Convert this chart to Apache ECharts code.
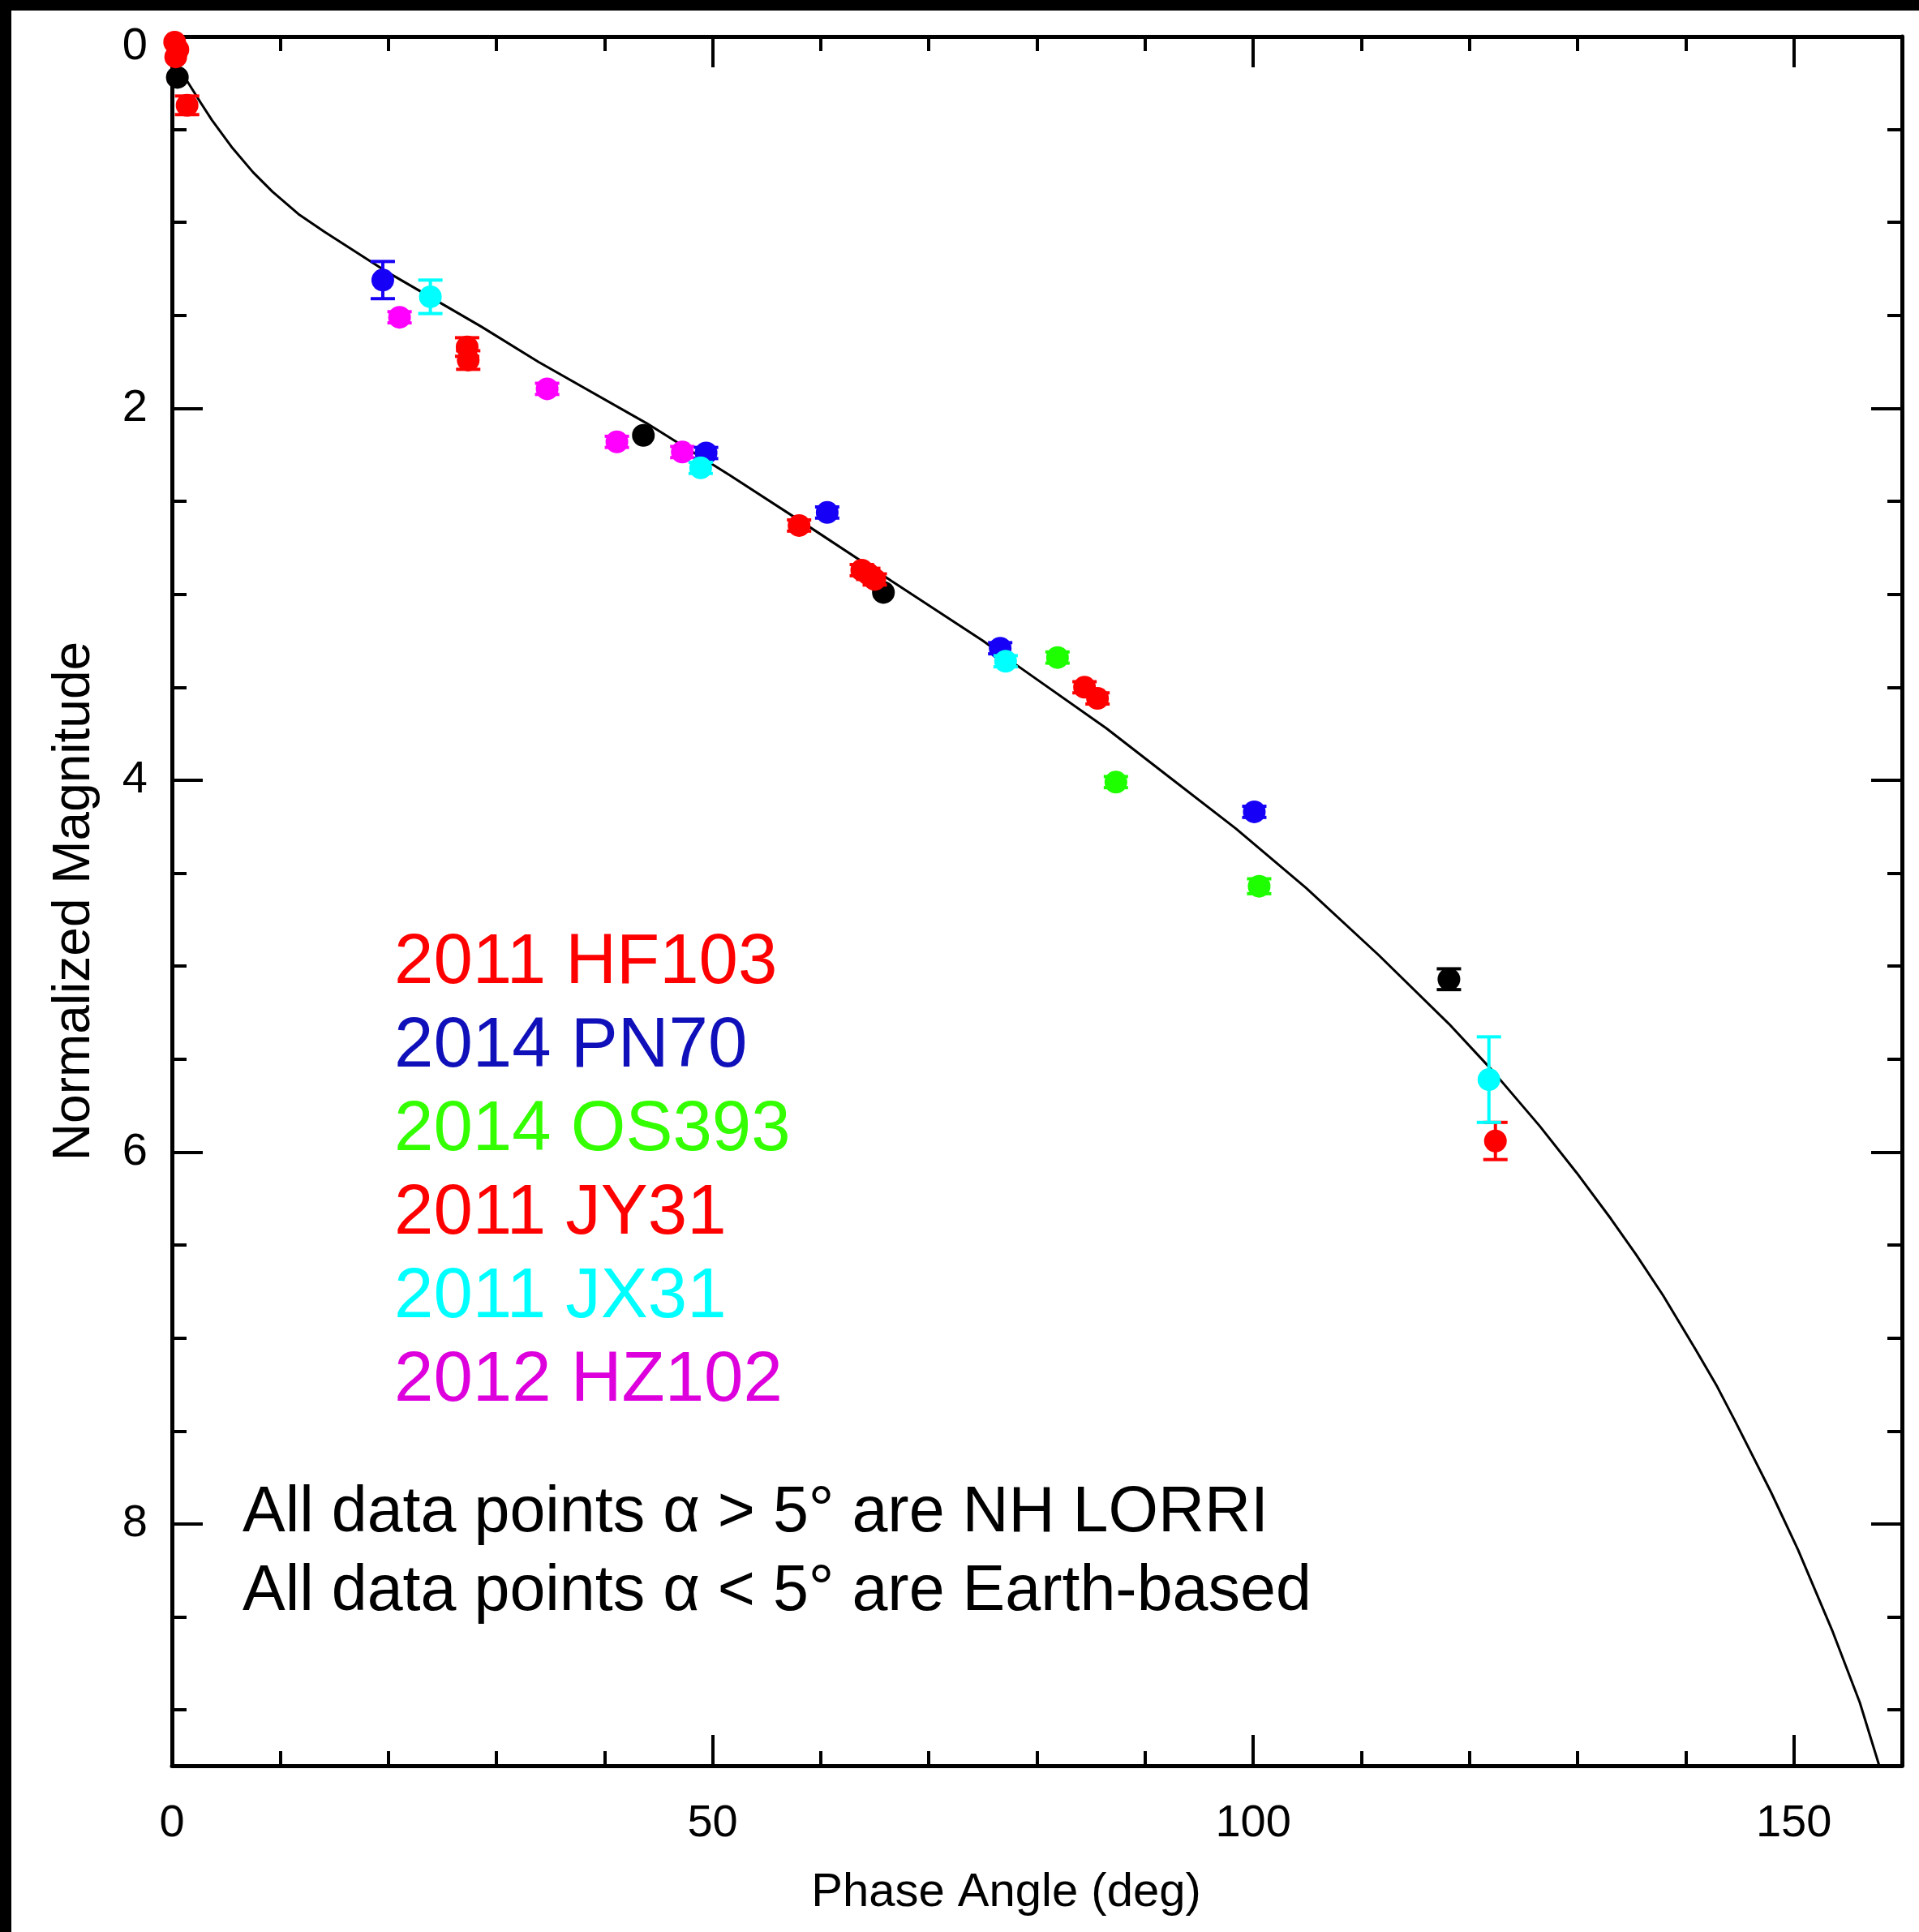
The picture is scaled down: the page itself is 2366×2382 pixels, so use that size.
<!DOCTYPE html>
<html>
<head>
<meta charset="utf-8">
<script src="https://cdn.jsdelivr.net/npm/echarts@6/dist/echarts.min.js"></script>
<style>
html,body{margin:0;padding:0;background:#fff;}
#chart{width:2366px;height:2382px;}
</style>
</head>
<body>
<div id="chart"></div>
<script>
// ---- axis ranges / ticks ----
const xRange = [0, 160];
const yRange = [0, 9.3];
const xMajorStep = 50, xMinorStep = 10;
const yMajorStep = 2, yMinorStep = 0.5;

// ---- series names & colours ----
const seriesNames = ['2011 HF103', '2014 PN70', '2014 OS393', '2011 JY31', '2011 JX31', '2012 HZ102'];
const markerColors = ['#ff0000', '#1600f5', '#1eff00', '#ff0000', '#00ffff', '#ff00ff'];
const legendColors = ['#ff0000', '#1010bb', '#33ff00', '#ff0000', '#00ffff', '#dd00dd'];

// ---- data: [phase angle (deg), normalized magnitude, error] ----
const hf103 = [[0.25, 0.03, 0], [0.55, 0.07, 0], [1.4, 0.37, 0.05], [27.3, 1.67, 0.05], [58.0, 2.63, 0.03], [63.8, 2.87, 0.03]];
const pn70 = [[19.5, 1.31, 0.10], [49.4, 2.24, 0.03], [60.6, 2.56, 0.03], [76.6, 3.29, 0.03], [100.1, 4.17, 0.03]];
const os393 = [[81.9, 3.34, 0.03], [87.3, 4.01, 0.03], [100.55, 4.57, 0.04]];
const jy31 = [[0.35, 0.11, 0], [27.4, 1.74, 0.05], [64.4, 2.89, 0.03], [65.0, 2.92, 0.03], [84.4, 3.50, 0.03], [85.6, 3.56, 0.03], [122.4, 5.94, 0.10]];
const jx31 = [[23.9, 1.40, 0.09], [48.9, 2.32, 0.03], [77.1, 3.36, 0.03], [121.8, 5.61, 0.23]];
const hz102 = [[21.05, 1.51, 0.03], [34.7, 1.895, 0.03], [41.15, 2.18, 0.03], [47.2, 2.235, 0.03]];
const otherPts = [[0.5, 0.22, 0], [43.6, 2.145, 0], [65.8, 2.99, 0], [118.1, 5.07, 0.056]];

// ---- model phase curve ----
const phaseCurve = [
  [0.3, 0.13], [1.3, 0.23], [2.7, 0.36], [3.7, 0.45], [5.6, 0.60], [7.5, 0.73], [9.3, 0.835], [11.7, 0.955],
  [14.1, 1.05], [20.0, 1.27], [28.6, 1.56], [33.9, 1.75], [43.9, 2.08], [51.6, 2.36], [58.5, 2.62],
  [66.6, 2.93], [75.0, 3.25], [78.1, 3.38], [86.4, 3.72], [92.4, 3.99], [98.4, 4.26], [104.9, 4.58],
  [111.6, 4.94], [118.1, 5.31], [122.1, 5.56], [126.5, 5.86], [129.9, 6.11], [133.1, 6.36],
  [135.4, 6.55], [137.9, 6.77], [140.9, 7.06], [142.9, 7.26], [144.6, 7.45], [147.9, 7.83],
  [150.4, 8.14], [153.6, 8.58], [156.1, 8.96], [157.9, 9.30]
];

const annotation = 'All data points \u03b1 > 5\u00b0 are NH LORRI\nAll data points \u03b1 < 5\u00b0 are Earth-based';
const xTitle = 'Phase Angle (deg)';
const yTitle = 'Normalized Magnitude';

// ---- build chart ----
const FONT = 'Liberation Sans, Arial, Helvetica, sans-serif';
const chart = echarts.init(document.getElementById('chart'), null, {renderer: 'canvas'});

function makeX(position, step, tickLen, main, showLine) {
  return {
    type: 'value', position: position, min: xRange[0], max: xRange[1], interval: step,
    axisLine: {show: showLine, onZero: false, lineStyle: {color: '#000', width: 5}},
    axisTick: {show: true, inside: true, length: tickLen, lineStyle: {color: '#000', width: 4}},
    axisLabel: main ? {
      show: true, margin: 44, fontSize: 56, color: '#000', fontFamily: FONT,
      formatter: v => (v % xMajorStep === 0 ? String(v) : '')
    } : {show: false},
    splitLine: {show: false},
    name: main ? xTitle : '', nameLocation: 'middle', nameGap: 128,
    nameTextStyle: {fontSize: 58, color: '#000', fontFamily: FONT, padding: [0, 76, 0, 0]}
  };
}
function makeY(position, step, tickLen, main, showLine) {
  return {
    type: 'value', position: position, min: yRange[0], max: yRange[1], interval: step, inverse: true,
    axisLine: {show: showLine, onZero: false, lineStyle: {color: '#000', width: 5}},
    axisTick: {show: true, inside: true, length: tickLen, lineStyle: {color: '#000', width: 4}},
    axisLabel: main ? {
      show: true, margin: 30, fontSize: 56, color: '#000', fontFamily: FONT,
      formatter: v => (Math.abs(v) < 1e-9 ? '{z|0}' : (Math.abs(v % yMajorStep) < 1e-9 ? String(v) : '')),
      rich: {z: {fontSize: 56, color: '#000', fontFamily: FONT, padding: [26, 0, 0, 0]}}
    } : {show: false},
    splitLine: {show: false},
    name: main ? yTitle : '', nameLocation: 'middle', nameGap: 88,
    nameTextStyle: {fontSize: 64, color: '#000', fontFamily: FONT}
  };
}

const groups = [hf103, pn70, os393, jy31, jx31, hz102];
const drawOrder = [5, 6, 0, 3, 1, 2, 4]; // index 6 = black (other)
const allGroups = groups.concat([otherPts]);
const allNames = seriesNames.concat(['other']);
const allColors = markerColors.concat(['#000000']);

function errRender(color) {
  return function (params, api) {
    const x = api.value(0), y = api.value(1), e = api.value(2);
    const p1 = api.coord([x, y - e]);
    const p2 = api.coord([x, y + e]);
    const hw = 15;
    const st = {stroke: color, lineWidth: 4};
    return {
      type: 'group',
      children: [
        {type: 'line', shape: {x1: p1[0], y1: p1[1], x2: p2[0], y2: p2[1]}, style: st},
        {type: 'line', shape: {x1: p1[0] - hw, y1: p1[1], x2: p1[0] + hw, y2: p1[1]}, style: st},
        {type: 'line', shape: {x1: p2[0] - hw, y1: p2[1], x2: p2[0] + hw, y2: p2[1]}, style: st}
      ]
    };
  };
}

const series = [{
  type: 'line', name: 'model', data: phaseCurve, showSymbol: false, smooth: false,
  lineStyle: {color: '#000', width: 3}, z: 1, silent: true
}];
drawOrder.forEach((gi, k) => {
  const pts = allGroups[gi];
  const col = allColors[gi];
  series.push({
    type: 'custom', name: allNames[gi], renderItem: errRender(col),
    data: pts.filter(p => p[2] > 0), encode: {x: 0, y: 1}, z: 2 + k * 2, silent: true
  });
  series.push({
    type: 'scatter', name: allNames[gi], data: pts.map(p => [p[0], p[1]]),
    symbol: 'circle', symbolSize: 28, itemStyle: {color: col, opacity: 1}, z: 3 + k * 2, silent: true
  });
});

const option = {
  animation: false,
  backgroundColor: '#ffffff',
  grid: {left: 212, right: 21, top: 45, bottom: 205, containLabel: false},
  xAxis: [
    makeX('bottom', xMajorStep, 38, true, true),
    makeX('bottom', xMinorStep, 18, false, false),
    makeX('top', xMajorStep, 38, false, true),
    makeX('top', xMinorStep, 18, false, false)
  ],
  yAxis: [
    makeY('left', yMajorStep, 38, true, true),
    makeY('left', yMinorStep, 18, false, false),
    makeY('right', yMajorStep, 38, false, true),
    makeY('right', yMinorStep, 18, false, false)
  ],
  legend: {
    orient: 'vertical', left: 481, top: 1145, padding: 0, itemWidth: 0, itemHeight: 0, itemGap: 16,
    icon: 'none', selectedMode: false,
    textStyle: {fontSize: 87, lineHeight: 86, fontFamily: FONT},
    data: seriesNames.map((n, i) => ({name: n, textStyle: {color: legendColors[i]}}))
  },
  graphic: [
    {type: 'rect', left: 0, top: 0, shape: {width: 14, height: 2382}, style: {fill: '#000'}, z: 100},
    {type: 'rect', left: 0, top: 0, shape: {width: 2366, height: 13}, style: {fill: '#000'}, z: 100},
    {type: 'text', left: 299, top: 1818, z: 50,
     style: {text: annotation, fontSize: 79, lineHeight: 97, fontFamily: FONT, fill: '#000'}}
  ],
  series: series
};
chart.setOption(option);
</script>
</body>
</html>
